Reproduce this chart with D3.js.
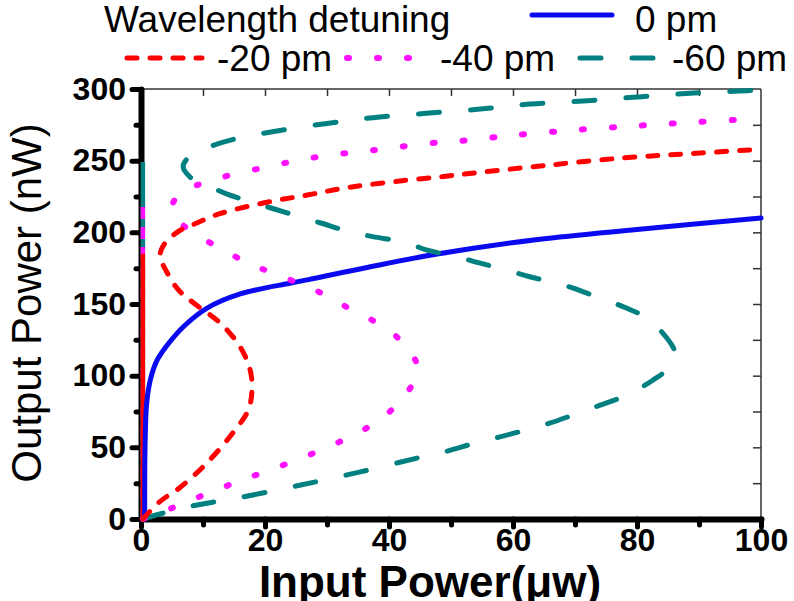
<html>
<head>
<script src="https://d3js.org/d3.v7.min.js"></script>
<style>
  body { margin: 0; background: #fff; }
  text { font-family: "Liberation Sans", Arial, sans-serif; }
</style>
</head>
<body>
<svg id="chart" width="794" height="601"></svg>
<script>
// input power (uW) / output power (nW) pairs
const curve0 = [[0.6,0],[0.6,30],[0.7,60],[0.9,80],[1.5,97],[2.5,110],[4,120],[6.8,134],[10.6,147],[16,157],[24,164.5],[27,167],[37,176],[48,185],[64,195],[80,202],[100,210]];
const curve20 = [[0.3,0],[3,12],[6.3,22],[10.6,39],[14.8,60],[17.3,76],[17.9,90],[17.6,104],[16,120],[12.7,137],[8.4,151],[6,160],[4.2,172],[3.1,183],[3.5,190],[5.8,200],[9,206.5],[12.7,213],[20.3,221],[26.8,226],[33,231],[40,235],[48,238.6],[55,242],[66,247],[78,252],[89,255],[100,258]];
const curve40 = [[0.3,0],[5.2,8],[10.8,18],[15.6,26],[20,33],[25,41],[30,50],[35,60],[39,71],[42,83],[44,96],[44.6,106],[44,113],[43.2,118],[41,128],[38,137],[34,146],[31,153],[28.9,158],[24,167],[18.7,176],[14.8,184],[9.5,197],[6.5,206],[5.2,213],[5,218],[5.8,225],[7.8,231],[10.6,235],[14.4,240],[20.3,245.6],[25.6,250.5],[30.8,254],[35.8,256.5],[40.6,259],[46,262],[51,263.5],[55.8,265.8],[60.8,268],[70.3,271.5],[80.5,274.5],[90,277],[100,279.5]];
const curve60 = [[0.3,0],[3.5,4],[6.8,7.7],[10.6,11],[15.5,14.6],[25,23],[35,32.5],[45.3,43.3],[49.4,47.4],[53.5,52.5],[57.6,57],[62,62],[66,67],[69.7,72.6],[73.5,78.5],[78.4,86.5],[82.6,97],[85.3,106],[86.2,114],[85.8,120],[82,139],[78.4,147],[73.5,155],[67.6,164],[62.7,169],[59,173.7],[54.2,179],[51,183],[46,187.7],[43,192.6],[37.4,197],[34,200],[29,206.5],[24,213],[18.7,220],[14,226.5],[11.5,231],[9.8,233.7],[7.9,238.6],[6.8,245.6],[7.6,252],[10.6,259],[16,266],[22.4,271],[30,276],[37.4,280],[46,283],[54.7,286],[62.7,289.5],[71.3,291.6],[80,294.4],[88.5,297],[96.6,298.6],[100,299.3]];
// vertical runs along x = 0 (output power reached, nW)
const stemTops = {"-60 pm": 249, "-40 pm": 220, "-20 pm": 185};

const seriesNames = ["0 pm", "-60 pm", "-40 pm", "-20 pm"];
const seriesData = [curve0, curve60, curve40, curve20];
const xTicks = [0, 20, 40, 60, 80, 100];
const xMinor = [10, 30, 50, 70, 90];
const yTicks = [0, 50, 100, 150, 200, 250, 300];
const yMinor = [25, 75, 125, 175, 225, 275];

const style = {
  "0 pm":   {color: "#0a0af0", dash: null,    width: 5},
  "-20 pm": {color: "#ff0000", dash: "10,13", width: 5},
  "-40 pm": {color: "#ff10ff", dash: "2,28",  width: 6},
  "-60 pm": {color: "#008080", dash: "21,31", width: 5}
};

const svg = d3.select("#chart");
const plotL = 141, plotR = 761, plotT = 89, plotB = 519;

const x = d3.scaleLinear().domain([0, 100]).range([plotL, plotR]);
const y = d3.scaleLinear().domain([0, 300]).range([plotB, plotT]);

// frame: thin top and right
svg.append("line").attr("x1", plotL).attr("x2", plotR).attr("y1", plotT).attr("y2", plotT)
   .attr("stroke", "#333").attr("stroke-width", 1.5);
svg.append("line").attr("x1", plotR).attr("x2", plotR).attr("y1", plotT).attr("y2", plotB)
   .attr("stroke", "#333").attr("stroke-width", 1.5);

const topAxis = svg.append("g").attr("transform", `translate(0,${plotT})`)
   .call(d3.axisBottom(x).tickValues(d3.range(10, 100, 10)).tickSize(7).tickSizeOuter(0).tickFormat(""));
const rightAxis = svg.append("g").attr("transform", `translate(${plotR},0)`)
   .call(d3.axisLeft(y).tickValues(d3.range(25, 300, 25)).tickSize(8).tickSizeOuter(0).tickFormat(""));
[topAxis, rightAxis].forEach(g => {
  g.select(".domain").remove();
  g.selectAll(".tick line").attr("stroke", "#333").attr("stroke-width", 1.5);
});

// thick left / bottom axes
function styleAxis(g) {
  g.select(".domain").attr("stroke", "#000").attr("stroke-width", 6).attr("stroke-linecap", "round");
  g.selectAll(".tick line").attr("stroke", "#000").attr("stroke-width", 5).attr("stroke-linecap", "round");
  g.selectAll(".tick text").attr("fill", "#000").style("font-size", "32px").style("font-weight", "bold")
   .style("font-family", "'Liberation Sans', Arial, sans-serif");
}
const xAxis = svg.append("g").attr("transform", `translate(0,${plotB})`)
   .call(d3.axisBottom(x).tickValues(xTicks).tickSize(8).tickPadding(1).tickSizeOuter(0).tickFormat(d3.format("d")));
svg.append("g").attr("transform", `translate(0,${plotB})`)
   .call(d3.axisBottom(x).tickValues(xMinor).tickSize(6).tickSizeOuter(0).tickFormat(""))
   .call(g => { g.select(".domain").remove(); styleAxis(g); });
styleAxis(xAxis);

const yAxis = svg.append("g").attr("transform", `translate(${plotL},0)`)
   .call(d3.axisLeft(y).tickValues(yTicks).tickSize(9).tickPadding(6).tickSizeOuter(0).tickFormat(d3.format("d")));
svg.append("g").attr("transform", `translate(${plotL},0)`)
   .call(d3.axisLeft(y).tickValues(yMinor).tickSize(5).tickSizeOuter(0).tickFormat(""))
   .call(g => { g.select(".domain").remove(); styleAxis(g); });
styleAxis(yAxis);

// curves
const line = d3.line().x(d => x(d[0])).y(d => y(d[1])).curve(d3.curveCatmullRom.alpha(0.5));
const curves = svg.append("g");

// stems along x = 0, then the curves on top
seriesNames.forEach(name => {
  const s = style[name];
  if (stemTops[name] !== undefined) {
    curves.append("path")
      .attr("d", line([[0.3, 0], [0.3, stemTops[name]]]))
      .attr("fill", "none").attr("stroke", s.color).attr("stroke-width", 4.5)
      .attr("stroke-dasharray", name === "-40 pm" ? "12,8" : null);
  }
});
seriesNames.forEach((name, i) => {
  const s = style[name];
  curves.append("path")
    .datum(seriesData[i])
    .attr("d", line)
    .attr("fill", "none")
    .attr("stroke", s.color)
    .attr("stroke-width", s.width)
    .attr("stroke-linecap", "round")
    .attr("stroke-dasharray", s.dash);
});

// axis titles
svg.append("text").attr("x", 430).attr("y", 597).attr("text-anchor", "middle")
   .style("font-size", "44px").style("font-weight", "bold").text("Input Power(\u03bcw)");
svg.append("text").attr("transform", "translate(41,303) rotate(-90)").attr("text-anchor", "middle")
   .style("font-size", "42px").text("Output Power (nW)");

// legend
const legend = svg.append("g");
legend.append("text").attr("x", 104).attr("y", 32).style("font-size", "37px").text("Wavelength detuning");
const legendItems = [
  {name: "0 pm",   x1: 529, x2: 615, ly: 15, tx: 635, ty: 32},
  {name: "-20 pm", x1: 124, x2: 205, ly: 58, tx: 217, ty: 71},
  {name: "-40 pm", x1: 344, x2: 413, ly: 58, tx: 440, ty: 71},
  {name: "-60 pm", x1: 577, x2: 658, ly: 58, tx: 672, ty: 71}
];
legendItems.forEach(it => {
  const s = style[it.name];
  legend.append("line").attr("x1", it.x1 + 3).attr("x2", it.x2 - 3).attr("y1", it.ly).attr("y2", it.ly)
    .attr("stroke", s.color).attr("stroke-width", s.width).attr("stroke-linecap", "round")
    .attr("stroke-dasharray", s.dash);
  legend.append("text").attr("x", it.tx).attr("y", it.ty).style("font-size", "37px").text(it.name);
});
</script>
</body>
</html>
